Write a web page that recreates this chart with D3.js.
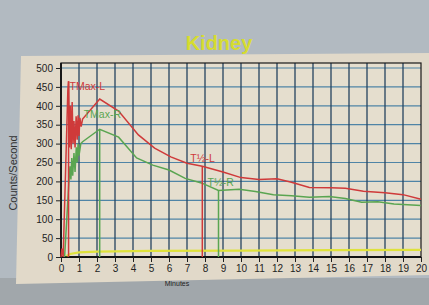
<!DOCTYPE html>
<html>
<head>
<meta charset="utf-8">
<script src="https://cdn.jsdelivr.net/npm/d3@7"></script>
<style>
  html, body { margin: 0; padding: 0; background: #aeb6bd; }
  svg { display: block; }
  .eje text { font-family: "Liberation Sans", Arial, sans-serif; font-size: 10px; fill: #222; }
  .eje path { display: none; }
  .eje line { stroke: #222; stroke-width: 1; }
</style>
</head>
<body>
<div id="graf"></div>
<script>
const minuteTicks = d3.range(0, 21)
const countTicks = d3.range(0, 501, 50)

// riñón izquierdo [minutos, cuentas/seg]
const leftKidney = [
  [0, 0], [0.05, 22], [0.12, 0], [0.38, 440], [0.42, 465], [0.47, 290], [0.52, 400],
  [0.57, 285], [0.62, 410], [0.67, 300], [0.72, 360], [0.78, 290], [0.84, 372],
  [0.9, 310], [0.95, 375], [1.0, 320], [1.05, 368], [1.12, 345], [1.2, 365],
  [2.15, 418], [3.2, 386], [4.3, 323], [5.2, 288], [6.1, 265], [7.0, 248],
  [7.85, 240], [9, 225], [10, 210], [11, 205], [12, 207], [12.8, 198], [13.8, 184],
  [15, 183], [15.8, 182], [16.8, 174], [18, 170], [19, 165], [20, 153]
]
// riñón derecho
const rightKidney = [
  [0.2, 0], [0.44, 200], [0.5, 240], [0.55, 205], [0.6, 262], [0.65, 215],
  [0.72, 275], [0.78, 225], [0.85, 290], [0.9, 250], [0.95, 300], [1.0, 268],
  [1.1, 300], [1.2, 305], [2.15, 338], [3.2, 317], [4.2, 262], [5.1, 243],
  [6, 230], [6.9, 208], [7.8, 196], [8.75, 176], [9.9, 179], [10.8, 173],
  [11.8, 165], [12.8, 162], [13.8, 158], [14.9, 160], [15.8, 155], [16.7, 145],
  [17.6, 146], [18.5, 140], [20, 136]
]
// fondo
const background = [
  [0.3, 3], [0.5, 8], [1, 12], [2, 14], [5, 16], [10, 17], [15, 18], [20, 19]
]
// marcadores: [minuto, cuentas, etiqueta]
const markersLeft = [[0.42, 465, 'TMax-L'], [7.85, 240, 'T½-L']]
const markersRight = [[2.15, 338, 'TMax-R'], [8.75, 176, 'T½-R']]

// II. Configuración
const ancho = 429, alto = 305
const rojo = '#cf3a3a', verde = '#5aa551', amarillo = '#dfe23c'

const svg = d3.select('#graf').append('svg')
  .attr('width', ancho)
  .attr('height', alto)

// fondo de la foto + tarjeta
svg.append('rect').attr('width', ancho).attr('height', alto).attr('fill', '#b2bac1')
svg.append('rect').attr('y', 278).attr('width', ancho).attr('height', 27).attr('fill', '#a1a7ab')
svg.append('polygon')
  .attr('points', '21,56 429,53 429,275 16,284')
  .attr('fill', '#e1d9c9')

const x = d3.scaleLinear().domain([0, 20]).range([61, 421])
const y = d3.scaleLinear().domain([0, 500]).range([257, 68])
const yTop = 63

// área del gráfico
svg.append('rect')
  .attr('x', x(0)).attr('y', yTop)
  .attr('width', x(20) - x(0)).attr('height', y(0) - yTop)
  .attr('fill', '#e5dece')

// rejilla
const grid = svg.append('g')
grid.selectAll('.h').data(countTicks.slice(1)).enter().append('line')
  .attr('x1', x(0)).attr('x2', x(20))
  .attr('y1', d => y(d)).attr('y2', d => y(d))
  .attr('stroke', '#4f84a6').attr('stroke-width', 1.2)
grid.selectAll('.v').data(minuteTicks.slice(1, -1)).enter().append('line')
  .attr('x1', d => x(d)).attr('x2', d => x(d))
  .attr('y1', yTop).attr('y2', y(0))
  .attr('stroke', '#25435f').attr('stroke-width', 1.3)

// borde
svg.append('rect')
  .attr('x', x(0)).attr('y', yTop)
  .attr('width', x(20) - x(0)).attr('height', y(0) - yTop)
  .attr('fill', 'none').attr('stroke', '#1a1a1a').attr('stroke-width', 1.2)
svg.append('line').attr('x1', x(0)).attr('x2', x(0)).attr('y1', yTop).attr('y2', y(0))
  .attr('stroke', '#111').attr('stroke-width', 1.8)
svg.append('line').attr('x1', x(0)).attr('x2', x(20)).attr('y1', y(0)).attr('y2', y(0))
  .attr('stroke', '#111').attr('stroke-width', 1.8)

// ejes
const yAxis = d3.axisLeft(y).tickValues(countTicks).tickSize(5).tickPadding(3)
svg.append('g').attr('class', 'eje')
  .attr('transform', `translate(${x(0)},0)`)
  .call(yAxis)
const xAxis = d3.axisBottom(x).tickValues(minuteTicks).tickSize(5).tickPadding(3)
svg.append('g').attr('class', 'eje')
  .attr('transform', `translate(0,${y(0)})`)
  .call(xAxis)

// líneas
const linea = d3.line().x(d => x(d[0])).y(d => y(d[1]))
svg.append('path').datum(background)
  .attr('d', linea).attr('fill', 'none').attr('stroke', amarillo).attr('stroke-width', 2.2)
svg.append('path').datum(rightKidney)
  .attr('d', linea).attr('fill', 'none').attr('stroke', verde).attr('stroke-width', 1.5)
svg.append('path').datum(leftKidney)
  .attr('d', linea).attr('fill', 'none').attr('stroke', rojo).attr('stroke-width', 1.5)

function marcadores(datos, color, offs) {
  svg.selectAll(null).data(datos).enter().append('line')
    .attr('x1', d => x(d[0])).attr('x2', d => x(d[0]))
    .attr('y1', y(0)).attr('y2', d => y(d[1]))
    .attr('stroke', color).attr('stroke-width', 1.5)
  svg.selectAll(null).data(datos).enter().append('text')
    .attr('x', (d, i) => x(d[0]) + offs[i][0])
    .attr('y', (d, i) => y(d[1]) + offs[i][1])
    .attr('fill', color)
    .style('font-family', '"Liberation Sans", Arial, sans-serif')
    .style('font-size', '10.5px')
    .text(d => d[2])
}
marcadores(markersLeft, rojo, [[1, 9], [-12, -4]])
marcadores(markersRight, verde, [[-16, -11], [-11, -4]])

// títulos
svg.append('text')
  .attr('x', 219).attr('y', 50)
  .attr('text-anchor', 'middle')
  .attr('fill', '#d6dc2e')
  .style('font-family', '"Liberation Sans", Arial, sans-serif')
  .style('font-weight', 'bold')
  .style('font-size', '20px')
  .text('Kidney')

svg.append('text')
  .attr('transform', 'translate(17,173) rotate(-90)')
  .attr('text-anchor', 'middle')
  .attr('fill', '#333')
  .style('font-family', '"Liberation Sans", Arial, sans-serif')
  .style('font-size', '11px')
  .text('Counts/Second')

svg.append('text')
  .attr('x', 177).attr('y', 286)
  .attr('text-anchor', 'middle')
  .attr('fill', '#222')
  .style('font-family', '"Liberation Sans", Arial, sans-serif')
  .style('font-size', '7px')
  .text('Minutes')
</script>
</body>
</html>
